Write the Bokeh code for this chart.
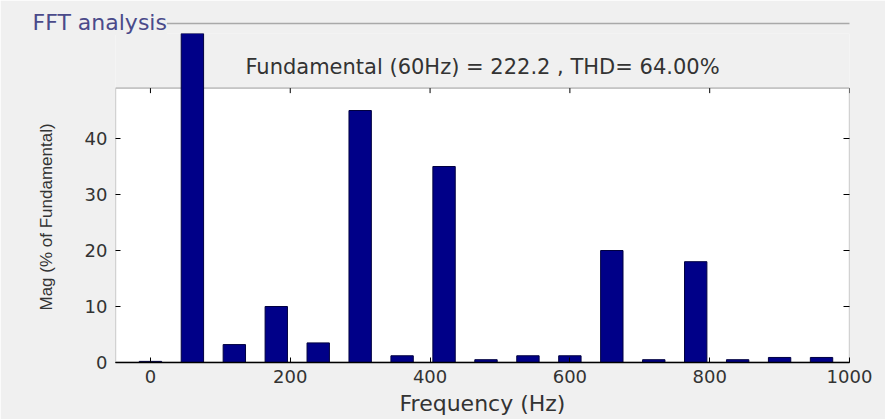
from bokeh.plotting import figure
from bokeh.models import Range1d, FixedTicker, LinearAxis, BoxAnnotation, Label, Title
from bokeh.embed import file_html
from bokeh.resources import INLINE

# ---- data ----
freqs = [0, 60, 120, 180, 240, 300, 360, 420, 480, 540, 600, 660, 720, 780, 840, 900, 960]
mags = [0.2, 100.0, 3.2, 10.0, 3.5, 45.0, 1.2, 35.0, 0.5, 1.2, 1.2, 20.0, 0.5, 18.0, 0.5, 0.9, 0.9]
x_ticks = [0, 200, 400, 600, 800, 1000]
y_ticks = [0, 10, 20, 30, 40]
title_text = "Fundamental (60Hz) = 222.2 , THD= 64.00%"
panel_text = "FFT analysis"
x_label = "Frequency (Hz)"
y_label = "Mag (% of Fundamental)"

X_MIN, X_MAX = -50, 1000
Y_TOP_BOX = 49
Y_MAX = 58.75

BG = "#f0f0f0"
TXT = "#333333"

p = figure(width=885, height=419, output_backend="svg", toolbar_location=None,
           x_range=Range1d(X_MIN, X_MAX), y_range=Range1d(0, Y_MAX),
           min_border_left=115, min_border_right=36, min_border_top=33, min_border_bottom=57)
p.background_fill_color = BG
p.border_fill_color = BG
p.outline_line_color = None
p.grid.visible = False

# white axes box
p.add_layout(BoxAnnotation(left=X_MIN, right=X_MAX, bottom=0, top=Y_TOP_BOX,
                           fill_color="white", fill_alpha=1, line_color="black",
                           line_width=1.3, level="underlay"))

# bars
p.vbar(x=freqs, top=mags, bottom=0, width=32, fill_color="#000088", line_color="#000040", line_width=1)

# top ticks (inside the box)
p.segment(x0=x_ticks, y0=[Y_TOP_BOX] * len(x_ticks), x1=x_ticks,
          y1=[Y_TOP_BOX - 0.9] * len(x_ticks), line_color="black", line_width=1)

# axes
xa = p.xaxis[0]
xa.ticker = FixedTicker(ticks=x_ticks)
xa.major_tick_in = 5
xa.major_tick_out = 0
xa.minor_tick_line_color = None
xa.axis_line_color = "black"
xa.axis_line_width = 1.3
xa.major_label_text_font = "DejaVu Sans"
xa.major_label_text_font_size = "18px"
xa.major_label_text_color = TXT
xa.major_label_standoff = 7
xa.axis_label = x_label
xa.axis_label_text_font = "DejaVu Sans"
xa.axis_label_text_font_size = "22px"
xa.axis_label_text_font_style = "normal"
xa.axis_label_text_color = TXT
xa.axis_label_standoff = 5

ya = p.yaxis[0]
ya.ticker = FixedTicker(ticks=y_ticks)
ya.major_tick_in = 5
ya.major_tick_out = 0
ya.minor_tick_line_color = None
ya.axis_line_color = None
ya.major_label_text_font = "DejaVu Sans"
ya.major_label_text_font_size = "18px"
ya.major_label_text_color = TXT
ya.major_label_standoff = 8

# y label: left-side title, aligned to the white box rather than to the frame
ylab = Title(text=y_label, align="left", offset=52, text_font="Liberation Sans",
             text_font_size="17px", text_font_style="normal", text_color=TXT, standoff=52)
p.add_layout(ylab, "left")

ra = LinearAxis(ticker=FixedTicker(ticks=y_ticks), major_tick_in=6, major_tick_out=0,
                minor_tick_line_color=None, axis_line_color=None,
                major_label_text_font_size="0px")
ra.major_label_text_color = None
p.add_layout(ra, "right")

# title inside the panel
p.add_layout(Label(x=(X_MIN + X_MAX) / 2, y=52.7, text=title_text, text_align="center",
                   text_baseline="alphabetic", text_font="DejaVu Sans",
                   text_font_size="21px", text_color=TXT))

# group box: a 10px spacer, then the etched line, then the caption over it
spacer = LinearAxis(ticker=FixedTicker(ticks=[X_MAX]), major_tick_in=0, major_tick_out=10,
                    minor_tick_in=0, minor_tick_out=0, major_label_standoff=0,
                    axis_line_color=None, major_tick_line_color=BG, minor_tick_line_color=None,
                    major_label_text_font_size="0px")
spacer.major_label_text_color = None
p.add_layout(spacer, "above")
boxline = LinearAxis(ticker=FixedTicker(ticks=[]), major_tick_in=0, major_tick_out=0,
                     minor_tick_in=0, minor_tick_out=0, major_label_standoff=0,
                     axis_line_color="#a9a9a9", axis_line_width=1.5,
                     major_tick_line_color=None, minor_tick_line_color=None,
                     major_label_text_font_size="0px")
p.add_layout(boxline, "above")

cap = Title(text=panel_text, align="left", offset=-83, text_font="DejaVu Sans",
            text_font_size="22px", text_font_style="normal", text_color="#4a4a8a",
            background_fill_color=BG, background_fill_alpha=1.0)
try:
    cap.standoff = -23
except Exception:
    cap.standoff = 0
p.add_layout(cap, "above")

open("out.html", "w").write(file_html(p, INLINE))
